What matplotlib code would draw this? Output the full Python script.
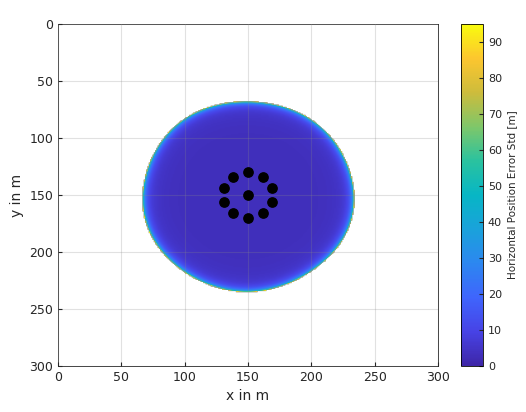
import numpy as np
import matplotlib
matplotlib.use("Agg")
import matplotlib.pyplot as plt
from matplotlib.colors import LinearSegmentedColormap

anchor_x = [150, 162, 169, 169, 162, 150, 138, 131, 131, 138, 150]
anchor_y = [130, 134, 144, 156, 166, 170, 166, 156, 144, 134, 150]
coverage_radius = 84.0
coverage_center = (150.0, 151.0)
base_error = 3.0
max_error = 95.0

parula = LinearSegmentedColormap.from_list("parula", [
    (0.0, "#3e26a8"), (0.1, "#4743e6"), (0.2, "#3f65fd"), (0.3, "#2c87f0"),
    (0.4, "#1aa2db"), (0.5, "#07b6c5"), (0.6, "#2ac29f"), (0.7, "#7ec76a"),
    (0.8, "#cdbc3c"), (0.9, "#fcc62f"), (1.0, "#f9fb0e")])

xs = np.arange(0, 301)
X, Y = np.meshgrid(xs, xs)
ang = np.arctan2(Y - coverage_center[1], X - coverage_center[0])
R = coverage_radius * (1 + 0.006 * np.sin(5 * ang) + 0.004 * np.cos(3 * ang))
r = np.hypot(X - coverage_center[0], Y - coverage_center[1]) / R
Z = base_error + 4 * r**6 + 25 * r**25 + 30 * r**60 + 35 * r**200
Z = np.ma.masked_where(r > 1, Z)

fig = plt.figure(figsize=(5.26, 4.12), dpi=100)
ax = fig.add_axes([58/526, 1-366/412, 380/526, 342/412])
im = ax.imshow(Z, cmap=parula, vmin=0, vmax=max_error, origin="upper",
               extent=[0, 300, 300, 0], interpolation="bilinear", zorder=1,
               aspect="auto")
ax.scatter(anchor_x, anchor_y, s=45, c="black", zorder=3)
ax.set_xlim(0, 300); ax.set_ylim(300, 0)
ax.set_xticks(range(0, 301, 50)); ax.set_yticks(range(0, 301, 50))
ax.grid(True, color="#888888", alpha=0.25, lw=0.8, zorder=2)
ax.set_axisbelow(False)
ax.set_xlabel("x in m", fontsize=10, color="#262626")
ax.set_ylabel("y in m", fontsize=10, color="#262626")
ax.tick_params(labelsize=9, direction="in", length=3, colors="#262626")
for s in ax.spines.values():
    s.set_color("#262626"); s.set_linewidth(0.6)
cax = fig.add_axes([461/526, 1-366/412, 22/526, 342/412])
cb = fig.colorbar(im, cax=cax, ticks=range(0, 91, 10))
cb.set_label("Horizontal Position Error Std [m]", fontsize=7.5, color="#262626")
cb.ax.tick_params(labelsize=8, direction="in", length=3, colors="#262626")
cb.outline.set_linewidth(0.6)
fig.savefig("out.png", dpi=100)
